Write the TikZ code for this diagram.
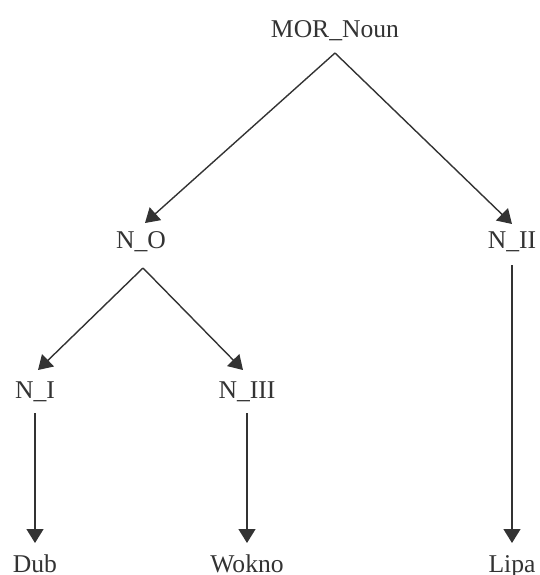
\documentclass[tikz,border=0pt]{standalone}
\usepackage{fontspec}
\setmainfont{Liberation Serif}
\usetikzlibrary{arrows.meta}

\begin{document}
\begin{tikzpicture}[x=0.5pt,y=0.5pt,yscale=-1,xscale=1,
  label/.style={anchor=base,inner sep=0pt,font=\fontsize{12.8}{15}\selectfont,text=black!80},
  link/.style={draw=black!80,line width=0.7pt,-{Triangle[length=7pt,width=8.5pt]}}]
\useasboundingbox (0,0) rectangle (540,575);

% Text Node
\node [label] (noun) at (335,37) {MOR\_Noun};
% Text Node
\node [label] (no) at (141,248) {N\_O};
% Text Node
\node [label] (nii) at (512,248) {N\_II};
% Text Node
\node [label] (ni) at (35,398) {N\_I};
% Text Node
\node [label] (niii) at (247,398) {N\_III};
% Text Node
\node [label] (dub) at (35,572) {Dub};
% Text Node
\node [label] (wokno) at (247,572) {Wokno};
% Text Node
\node [label] (lipa) at (512,572) {Lipa};

%Straight Lines (yshift follows yscale=-1, so + is down)
\draw [link] ([yshift=8pt]noun.base) -- ([xshift=2pt,yshift=-12.5pt]no.base);
\draw [link] ([yshift=8pt]noun.base) -- ([yshift=-12pt]nii.base);
\draw [link] ([xshift=1pt,yshift=10pt]no.base) -- ([xshift=1.5pt,yshift=-14pt]ni.base);
\draw [link] ([xshift=1pt,yshift=10pt]no.base) -- ([xshift=-2pt,yshift=-14pt]niii.base);
\draw [link] ([yshift=7.5pt]ni.base) -- ([yshift=-14.5pt]dub.base);
\draw [link] ([yshift=7.5pt]niii.base) -- ([yshift=-14.5pt]wokno.base);
\draw [link] ([yshift=8.5pt]nii.base) -- ([yshift=-14.5pt]lipa.base);

\end{tikzpicture}
\end{document}
